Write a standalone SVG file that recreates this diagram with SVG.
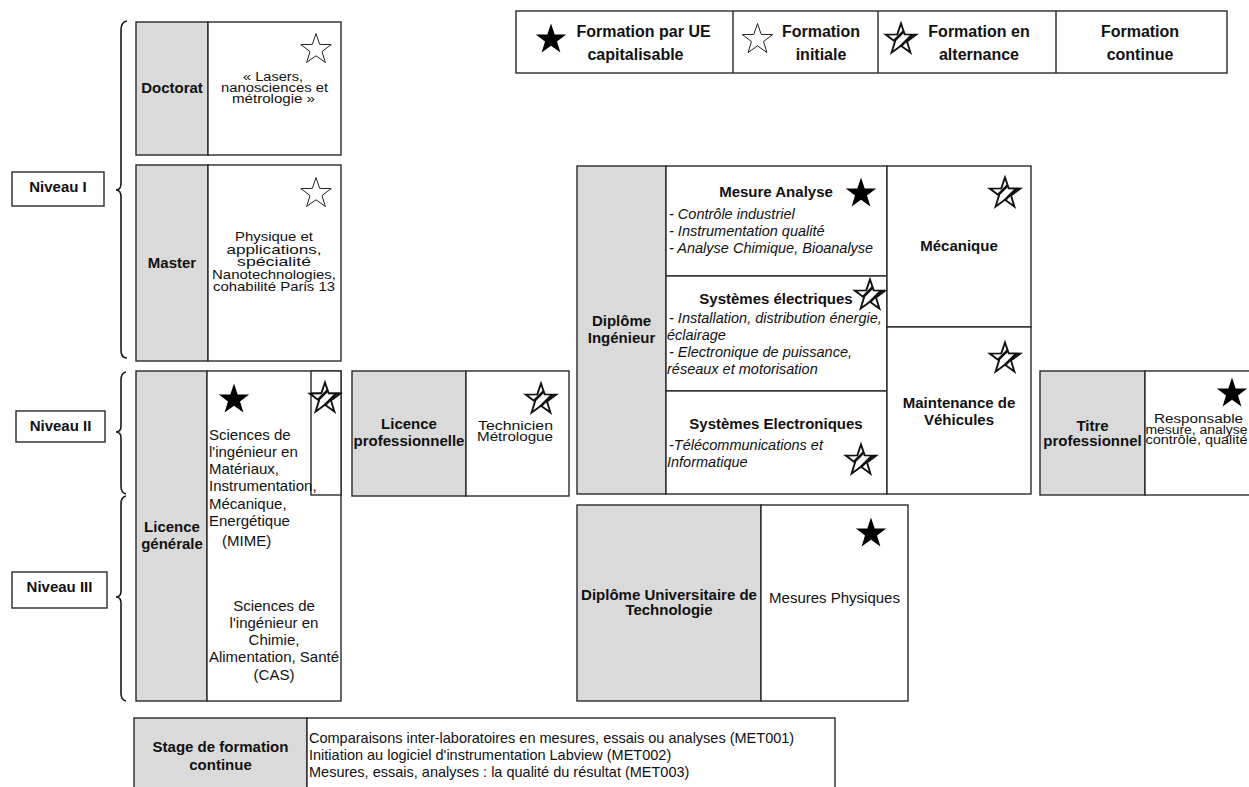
<svg xmlns="http://www.w3.org/2000/svg" width="1249" height="787" viewBox="0 0 1249 787">
<style>
.cell{fill:#fff;stroke:#2a2a2a;stroke-width:1.4}
.gray{fill:#dadada;stroke:#2a2a2a;stroke-width:1.4}
.ln{stroke:#2a2a2a;stroke-width:1.4;fill:none}
.brace{fill:none;stroke:#1a1a1a;stroke-width:1.6}
text{font-family:"Liberation Sans",Arial,sans-serif;fill:#111;font-size:15px}
.b{font-weight:bold}
.i{font-style:italic;font-size:14.5px}
.m{text-anchor:middle}
.lg{font-size:16px;font-weight:bold}
.st{font-size:14.5px}
.tt{font-size:12.5px}
.t2{font-size:13.5px}
</style>
<defs>
<path id="starShape" d="M0,-14.5 L3.7,-3.6 L15.2,-3.4 L6,3.5 L9.4,14.5 L0,7.8 L-9.4,14.5 L-6,3.5 L-15.2,-3.4 L-3.7,-3.6 Z"/>
<clipPath id="starClip"><path d="M0,-14.5 L3.7,-3.6 L15.2,-3.4 L6,3.5 L9.4,14.5 L0,7.8 L-9.4,14.5 L-6,3.5 L-15.2,-3.4 L-3.7,-3.6 Z"/></clipPath>
<g id="starBlack"><use href="#starShape" fill="#000"/></g>
<g id="starWhite"><use href="#starShape" fill="#fff" stroke="#222" stroke-width="1"/></g>
<g id="starAlt">
<use href="#starShape" fill="#fff"/>
<g clip-path="url(#starClip)"><path d="M-13,9 L9,-13 M-7,15 L15,-7" stroke="#111" stroke-width="2.6" fill="none"/></g>
<use href="#starShape" fill="none" stroke="#111" stroke-width="1.9"/>
</g>
</defs>

<rect width="1249" height="787" fill="#fff"/>

<g id="legend">
<rect class="cell" x="516" y="11" width="711" height="62"/>
<path class="ln" d="M733,11 V73 M878,11 V73 M1056,11 V73"/>
<use href="#starBlack" x="551" y="38"/>
<text class="lg m" x="643.5" y="37">Formation par UE</text>
<text class="lg m" x="635.5" y="60">capitalisable</text>
<use href="#starWhite" x="757.5" y="38"/>
<text class="lg m" x="821" y="37">Formation</text>
<text class="lg m" x="821" y="60">initiale</text>
<use href="#starAlt" x="901" y="38"/>
<text class="lg m" x="979" y="37">Formation en</text>
<text class="lg m" x="979" y="60">alternance</text>
<text class="lg m" x="1140" y="37">Formation</text>
<text class="lg m" x="1140" y="60">continue</text>
</g>

<g id="niveau-1">
<rect class="cell" x="12" y="172" width="92" height="34"/>
<text class="b m" x="58" y="192">Niveau I</text>
</g>
<g id="niveau-2">
<rect class="cell" x="16" y="411" width="89" height="31"/>
<text class="b m" x="60.5" y="431">Niveau II</text>
</g>
<g id="niveau-3">
<rect class="cell" x="12" y="572" width="95" height="36"/>
<text class="b m" x="59.5" y="592">Niveau III</text>
</g>

<g id="connectors">
<path class="brace" d="M127,21 Q121,22 121,30 L121,183 Q121,190 116,190 Q121,190 121,197 L121,350 Q121,358 127,358"/>
<path class="brace" d="M126,372 Q121,373 121,380 L121,426 Q121,432 116,432 Q121,432 121,438 L121,486 Q121,493 126,494"/>
<path class="brace" d="M126,496 Q121,497 121,504 L121,591 Q121,597 116,597 Q121,597 121,603 L121,693 Q121,700 126,701"/>
</g>

<g id="doctorat">
<rect class="gray" x="136" y="22" width="72" height="133"/>
<rect class="cell" x="208" y="22" width="133" height="133"/>
<text class="b m" x="172" y="93">Doctorat</text>
<use href="#starWhite" x="316" y="48"/>
<text class="tt m" x="273" y="81" textLength="60" lengthAdjust="spacingAndGlyphs">« Lasers,</text>
<text class="tt m" x="274.5" y="92" textLength="107" lengthAdjust="spacingAndGlyphs">nanosciences et</text>
<text class="tt m" x="273.5" y="102.5" textLength="83" lengthAdjust="spacingAndGlyphs">métrologie »</text>
</g>

<g id="master">
<rect class="gray" x="136" y="165" width="72" height="196"/>
<rect class="cell" x="208" y="165" width="133" height="196"/>
<text class="b m" x="172" y="268">Master</text>
<use href="#starWhite" x="316" y="192"/>
<text class="t2 m" x="274" y="241" textLength="78" lengthAdjust="spacingAndGlyphs">Physique et</text>
<text class="t2 m" x="274" y="253.5" textLength="95" lengthAdjust="spacingAndGlyphs">applications,</text>
<text class="t2 m" x="274" y="266" textLength="74" lengthAdjust="spacingAndGlyphs">spécialité</text>
<text class="t2 m" x="274" y="278.5" textLength="124" lengthAdjust="spacingAndGlyphs">Nanotechnologies,</text>
<text class="t2 m" x="274" y="291" textLength="122" lengthAdjust="spacingAndGlyphs">cohabilité Paris 13</text>
</g>

<g id="licence-generale">
<rect class="gray" x="136" y="371" width="71" height="330"/>
<rect class="cell" x="207" y="371" width="134" height="330"/>
<rect class="cell" x="311" y="371" width="30" height="124"/>
<path class="ln" d="M311,393 H341"/>
<text class="b m" x="172" y="532">Licence</text>
<text class="b m" x="172" y="549">générale</text>
<use href="#starBlack" x="234" y="398"/>
<use href="#starAlt" x="325" y="397"/>
<text x="209"><tspan x="209" y="440">Sciences de</tspan><tspan x="209" y="457">l'ingénieur en</tspan><tspan x="209" y="474">Matériaux,</tspan><tspan x="209" y="491">Instrumentation,</tspan><tspan x="209" y="508.5">Mécanique,</tspan><tspan x="209" y="526">Energétique</tspan><tspan x="222" y="546">(MIME)</tspan></text>
<text class="m" x="274"><tspan x="274" y="611">Sciences de</tspan><tspan x="274" y="628">l'ingénieur en</tspan><tspan x="274" y="645">Chimie,</tspan><tspan x="274" y="662">Alimentation, Santé</tspan><tspan x="274" y="680">(CAS)</tspan></text>
</g>

<g id="licence-pro">
<rect class="gray" x="352" y="371" width="114" height="125"/>
<rect class="cell" x="466" y="371" width="103" height="125"/>
<text class="b m" x="409" y="429">Licence</text>
<text class="b m" x="409" y="446">professionnelle</text>
<use href="#starAlt" x="541" y="398"/>
<text class="tt m" x="515.5" y="430" textLength="75" lengthAdjust="spacingAndGlyphs">Technicien</text>
<text class="tt m" x="515" y="441" textLength="76" lengthAdjust="spacingAndGlyphs">Métrologue</text>
</g>

<g id="diplome-ingenieur">
<rect class="gray" x="577" y="166" width="89" height="328"/>
<rect class="cell" x="666" y="166" width="221" height="110"/>
<rect class="cell" x="666" y="276" width="221" height="115"/>
<rect class="cell" x="666" y="391" width="221" height="103"/>
<rect class="cell" x="887" y="166" width="144" height="161"/>
<rect class="cell" x="887" y="327" width="144" height="167"/>
<text class="b m" x="621.5" y="326">Diplôme</text>
<text class="b m" x="621.5" y="343">Ingénieur</text>
<text class="b m" x="776" y="197">Mesure Analyse</text>
<use href="#starBlack" x="861" y="192"/>
<text class="i" x="669" y="219">- Contrôle industriel</text>
<text class="i" x="669" y="236">- Instrumentation qualité</text>
<text class="i" x="669" y="253">- Analyse Chimique, Bioanalyse</text>
<text class="b m" x="776" y="304">Systèmes électriques</text>
<use href="#starAlt" x="870" y="294"/>
<text class="i" x="669" y="323">- Installation, distribution énergie,</text>
<text class="i" x="667" y="340">éclairage</text>
<text class="i" x="669" y="357">- Electronique de puissance,</text>
<text class="i" x="667" y="374">réseaux et motorisation</text>
<text class="b m" x="776" y="429">Systèmes Electroniques</text>
<text class="i" x="669" y="450">-Télécommunications et</text>
<text class="i" x="667" y="467">Informatique</text>
<use href="#starAlt" x="861" y="459"/>
<text class="b m" x="959" y="251">Mécanique</text>
<use href="#starAlt" x="1005" y="192"/>
<use href="#starAlt" x="1005" y="357"/>
<text class="b m" x="959" y="408">Maintenance de</text>
<text class="b m" x="959" y="425">Véhicules</text>
</g>

<g id="dut">
<rect class="gray" x="577" y="505" width="184" height="196"/>
<rect class="cell" x="761" y="505" width="147" height="196"/>
<text class="b m" x="669" y="600">Diplôme Universitaire de</text>
<text class="b m" x="669" y="615">Technologie</text>
<use href="#starBlack" x="871" y="532"/>
<text class="m" x="834.5" y="603">Mesures Physiques</text>
</g>

<g id="titre-pro">
<rect class="gray" x="1040" y="371" width="105" height="124"/>
<rect class="cell" x="1145" y="371" width="120" height="124"/>
<text class="b m" x="1092.5" y="431">Titre</text>
<text class="b m" x="1092.5" y="446">professionnel</text>
<use href="#starBlack" x="1232" y="392"/>
<text class="tt m" x="1198.5" y="423" textLength="89" lengthAdjust="spacingAndGlyphs">Responsable</text>
<text class="tt m" x="1196.5" y="433.5" textLength="102" lengthAdjust="spacingAndGlyphs">mesure, analyse</text>
<text class="tt m" x="1196.5" y="444" textLength="102" lengthAdjust="spacingAndGlyphs">contrôle, qualité</text>
</g>

<g id="stage">
<rect class="gray" x="134" y="718" width="173" height="90"/>
<rect class="cell" x="307" y="718" width="528" height="90"/>
<text class="b m" x="220.5" y="752">Stage de formation</text>
<text class="b m" x="220.5" y="770">continue</text>
<text class="st" x="309" y="743">Comparaisons inter-laboratoires en mesures, essais ou analyses (MET001)</text>
<text class="st" x="309" y="760">Initiation au logiciel d'instrumentation Labview (MET002)</text>
<text class="st" x="309" y="777">Mesures, essais, analyses : la qualité du résultat (MET003)</text>
</g>
</svg>
